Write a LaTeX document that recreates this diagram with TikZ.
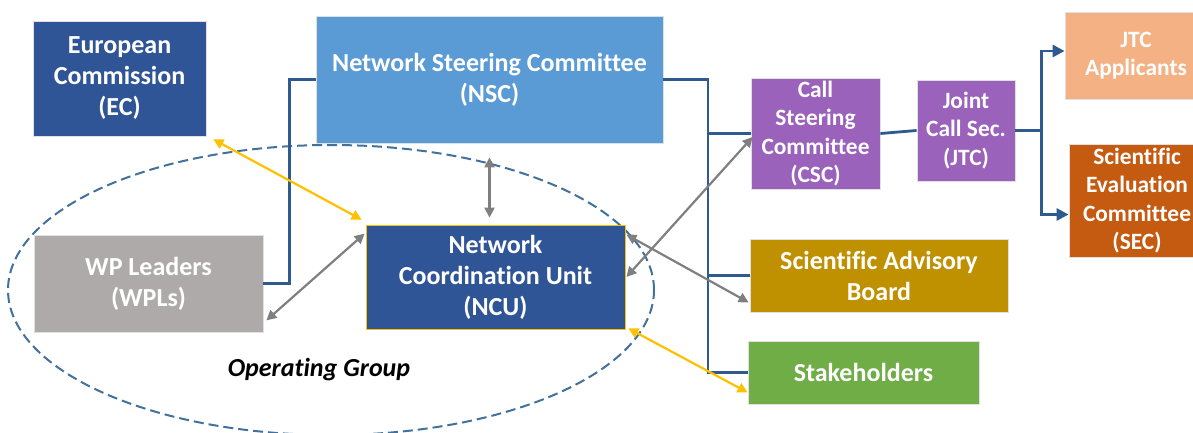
\documentclass[tikz,border=0pt]{standalone}
\usepackage{fontspec}
\setmainfont[RawFeature={-liga;-clig;-calt}]{Carlito}
\usetikzlibrary{arrows.meta, calc}
\definecolor{ecblue}{HTML}{2F5597}
\definecolor{nscblue}{HTML}{5B9BD5}
\definecolor{wpgray}{HTML}{AEAAAA}
\definecolor{callpurple}{HTML}{9A62BA}
\definecolor{sabgold}{HTML}{BF9000}
\definecolor{stkgreen}{HTML}{70AD47}
\definecolor{apporange}{HTML}{F4B183}
\definecolor{secorange}{HTML}{C55A11}
\definecolor{linkblue}{HTML}{2E5A8F}
\definecolor{ogyellow}{HTML}{FFC000}
\definecolor{oggray}{HTML}{7F7F7F}
\definecolor{ogdash}{HTML}{41719C}

\begin{document}
\begin{tikzpicture}[
    x=0.5pt, y=-0.5pt,
    font=\fontsize{13}{15.5}\selectfont\bfseries,
    box/.style={text=white, align=center, inner sep=0pt, draw=white!88!black, line width=0.4pt},
    small/.style={font=\fontsize{11.7}{14.2}\selectfont\bfseries},
    tree/.style={draw=linkblue, line width=1.4pt},
    both/.style={{Triangle[length=5pt,width=5pt]}-{Triangle[length=5pt,width=5pt]}, line width=1.1pt},
]
\useasboundingbox (0,0) rectangle (1193,433);

% Operating group outline
\draw[ogdash, line width=1pt, dash pattern=on 5pt off 2.5pt] (331,290) ellipse [x radius=161.5pt, y radius=72.5pt];
\node[font=\fontsize{13}{15.5}\selectfont\bfseries\itshape] (oglabel) at (319,370) {Operating Group};

% Boxes
\node[box, fill=ecblue, minimum width=86.5pt, minimum height=57.5pt] (ec) at (119.5,78.5) {European\\Commission\\(EC)};
\node[box, fill=nscblue, minimum width=173.5pt, minimum height=63.5pt] (nsc) at (489.5,79.5) {Network Steering Committee\\(NSC)};
\node[box, fill=wpgray, minimum width=114.5pt, minimum height=48.5pt] (wpl) at (148.5,283.5) {WP Leaders\\(WPLs)};
\node[box, fill=ecblue, draw=ogyellow, minimum width=129.5pt, minimum height=52pt] (ncu) at (495.5,277) {Network\\Coordination Unit\\(NCU)};
\node[box, small, fill=callpurple, minimum width=64.5pt, minimum height=55.5pt] (csc) at (815.5,133.5) {Call\\Steering\\Committee\\(CSC)};
\node[box, small, fill=callpurple, minimum width=49pt, minimum height=50.5pt] (jtc) at (966,130.5) {Joint\\Call Sec.\\(JTC)};
\node[box, small, fill=apporange, minimum width=71pt, minimum height=43.5pt] (app) at (1136,55.5) {JTC\\Applicants};
\node[box, small, fill=secorange, minimum width=68pt, minimum height=56.5pt] (sec) at (1137,200.5) {Scientific\\Evaluation\\Committee\\(SEC)};
\node[box, fill=sabgold, minimum width=129pt, minimum height=36.5pt] (sab) at (879,275.5) {Scientific Advisory\\Board};
\node[box, fill=stkgreen, minimum width=115.5pt, minimum height=31.5pt] (stk) at (863.5,372.5) {Stakeholders};

% Reporting lines
\draw[tree] (nsc.west) -- ++(-26,0) |- (wpl.east);
\coordinate (bus) at (708,0);
\draw[tree] (nsc.east) -| (bus |- stk.west) -- (stk.west);
\draw[tree] (bus |- csc.west) -- (csc.west);
\draw[tree] (bus |- sab.west) -- (sab.west);
\draw[tree] (csc.east) -- (jtc.west);
\draw[tree] (jtc.east) -- ++(26,0) coordinate (split);
\draw[tree, -{Triangle[length=6pt,width=6pt]}] (split) |- ([yshift=2.25pt]app.west);
\draw[tree, -{Triangle[length=6pt,width=6pt]}] (split) |- ([yshift=-7pt]sec.west);

% Exchanges with the NCU
\draw[both, oggray] ($(nsc.south)+(0,14)$) -- ($(nsc.south |- ncu.north)+(0,-7)$);
\draw[both, oggray] ($(wpl.south east)+(3,-12)$) -- ($(ncu.north west)+(-1,9)$);
\draw[both, ogyellow] ($(ec.south east)+(7,3)$) -- ($(ncu.north west)+(-4,-5)$);
\draw[both, ogyellow] ($(ncu.south east)+(3,-1)$) -- ($(stk.south west)+(0,-12)$);
\draw[both, oggray] ($(csc.west)+(2,3.5)$) -- ($(ncu.east)+(1,0)$);
\draw[both, oggray] ($(ncu.north east)+(1,10)$) -- ($(sab.south west)+(-1,-10)$);

\end{tikzpicture}
\end{document}
